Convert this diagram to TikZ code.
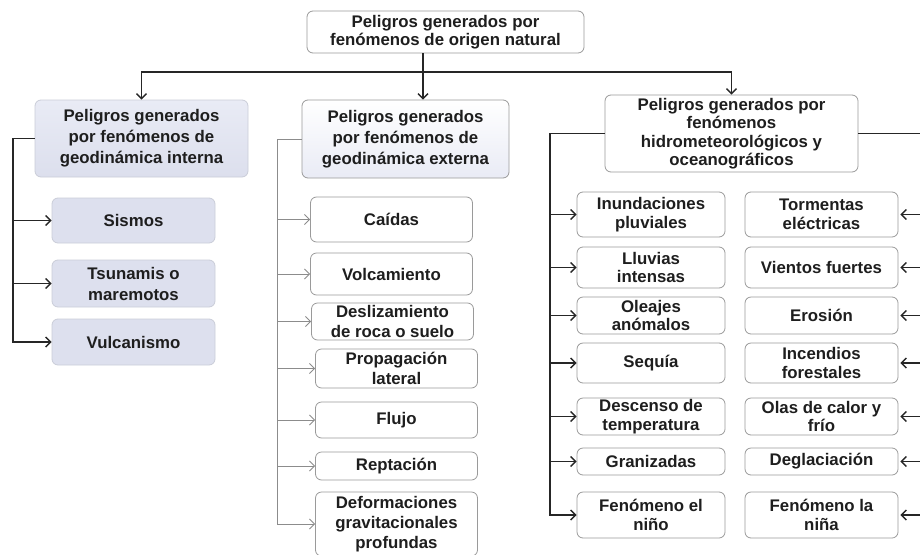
\documentclass[tikz,border=0pt]{standalone}
\usepackage{fontspec}
\setmainfont{Liberation Sans}
\usetikzlibrary{arrows.meta,calc}
\definecolor{txt}{HTML}{1E1E1E}
\definecolor{bord}{HTML}{9A9A9A}
\definecolor{lav}{HTML}{DDE0EE}
\definecolor{lavtop}{HTML}{E9EBF5}
\definecolor{lavbot}{HTML}{DCDFED}
\definecolor{gline}{HTML}{8C8C8C}
\begin{document}
\begin{tikzpicture}[x=1pt,y=-1pt,
  box/.style={draw=bord, line width=0.8pt, rounded corners=6pt, align=center,
    inner sep=0pt, text=txt, fill=white,
    font=\bfseries\fontsize{16.8}{18.5}\selectfont},
  wide/.style={font=\bfseries\fontsize{16.8}{21}\selectfont},
  mid/.style={font=\bfseries\fontsize{16.8}{20}\selectfont},
  lavbox/.style={fill=lav, draw=lav!80!gray},
  conn/.style={line width=1.4pt, draw=black!85},
  gconn/.style={line width=0.9pt, draw=gline},
  tip/.style={-{Straight Barb[length=5pt,width=10pt]}},
  lw/.style={minimum width=163pt},
  mw/.style={minimum width=162pt},
  rlw/.style={minimum width=148pt},
  rrw/.style={minimum width=153pt}
]
\useasboundingbox (0,0) rectangle (920,554);

% top level
\node[box, minimum width=277pt, minimum height=42pt] (top) at (445.5,32)
  {Peligros generados por\\fenómenos de origen natural};
\node[box, wide, minimum width=213pt, minimum height=77pt,
  top color=lavtop, bottom color=lavbot, draw=lav!80!gray] (b1) at (141.5,138.5)
  {Peligros generados\\por fenómenos de\\geodinámica interna};
\node[box, wide, minimum width=207pt, minimum height=78pt,
  top color=white, bottom color=lavtop] (b2) at (405.5,139)
  {Peligros generados\\por fenómenos de\\geodinámica externa};
\node[box, minimum width=253pt, minimum height=77pt] (b3) at (731.5,133.5)
  {Peligros generados por\\fenómenos\\hidrometeorológicos y\\oceanográficos};

\coordinate (j) at (423,72);
\draw[conn] (top.south -| j) -- (j);
\draw[conn,tip] (j) -- (j |- b2.north);
\draw[conn,tip] (j) -| (b1.north);
\draw[conn,tip] (j) -| (b3.north);

% interna
\node[box, lavbox, lw, minimum height=45pt] (s1) at (133.5,220.5) {Sismos};
\node[box, lavbox, lw, minimum height=47pt, wide] (s2) at (133.5,283.5) {Tsunamis o\\maremotos};
\node[box, lavbox, lw, minimum height=46pt] (s3) at (133.5,342) {Vulcanismo};
\coordinate (l) at (13,0);
\draw[conn,tip] (b1.west) -- (b1.west -| l) -- (l |- s3.west) -- (s3.west);
\draw[conn,tip] (l |- s1.west) -- (s1.west);
\draw[conn,tip] (l |- s2.west) -- (s2.west);

% externa
\node[box, mid, mw, minimum height=45pt] (c1) at (391.5,219.5) {Caídas};
\node[box, mid, mw, minimum height=42pt] (c2) at (391.5,274) {Volcamiento};
\node[box, mid, mw, minimum height=37pt] (c3) at (392.5,321.5) {Deslizamiento\\de roca o suelo};
\node[box, mid, mw, minimum height=39pt] (c4) at (396.5,368.5) {Propagación\\lateral};
\node[box, mid, mw, minimum height=36pt] (c5) at (396.5,420) {Flujo};
\node[box, mid, mw, minimum height=28pt] (c6) at (396.5,466) {Reptación};
\node[box, mid, mw, minimum height=64pt] (c7) at (396.5,524) {Deformaciones\\gravitacionales\\profundas};
\coordinate (m) at (277,0);
\draw[gconn,tip] (b2.west) -- (b2.west -| m) -- (m |- c7.west) -- (c7.west);
\foreach \n in {c1,c2,c3,c4,c5,c6}
  \draw[gconn,tip] (m |- \n.west) -- (\n.west);

% hidro - left column
\node[box, rlw, minimum height=45pt] (p1) at (651,214.5) {Inundaciones\\pluviales};
\node[box, rlw, minimum height=41pt] (p2) at (651,267.5) {Lluvias\\intensas};
\node[box, rlw, minimum height=37pt] (p3) at (651,315.5) {Oleajes\\anómalos};
\node[box, rlw, minimum height=40pt] (p4) at (651,363) {Sequía};
\node[box, rlw, minimum height=37pt] (p5) at (651,416.5) {Descenso de\\temperatura};
\node[box, rlw, minimum height=27pt] (p6) at (651,461.5) {Granizadas};
\node[box, rlw, minimum height=46pt] (p7) at (651,515) {Fenómeno el\\niño};
\coordinate (r) at (550,0);
\draw[conn,tip] (b3.west) -- (b3.west -| r) -- (r |- p7.west) -- (p7.west);
\foreach \n in {p1,p2,p3,p4,p5,p6}
  \draw[conn,tip] (r |- \n.west) -- (\n.west);

% hidro - right column
\node[box, rrw, minimum height=45pt] (q1) at (821.5,214.5) {Tormentas\\eléctricas};
\node[box, rrw, minimum height=41pt] (q2) at (821.5,267.5) {Vientos fuertes};
\node[box, rrw, minimum height=37pt] (q3) at (821.5,315.5) {Erosión};
\node[box, rrw, minimum height=40pt] (q4) at (821.5,363) {Incendios\\forestales};
\node[box, rrw, minimum height=37pt] (q5) at (821.5,416.5) {Olas de calor y\\frío};
\node[box, rrw, minimum height=27pt] (q6) at (821.5,461.5) {Deglaciación};
\node[box, rrw, minimum height=46pt] (q7) at (821.5,515) {Fenómeno la\\niña};
\coordinate (R) at (924,0);
\draw[conn] (b3.east) -- (b3.east -| R) -- (R |- q7.east);
\foreach \n in {q1,q2,q3,q4,q5,q6,q7}
  \draw[conn,tip] (R |- \n.east) -- ([xshift=2pt]\n.east);
\end{tikzpicture}
\end{document}
